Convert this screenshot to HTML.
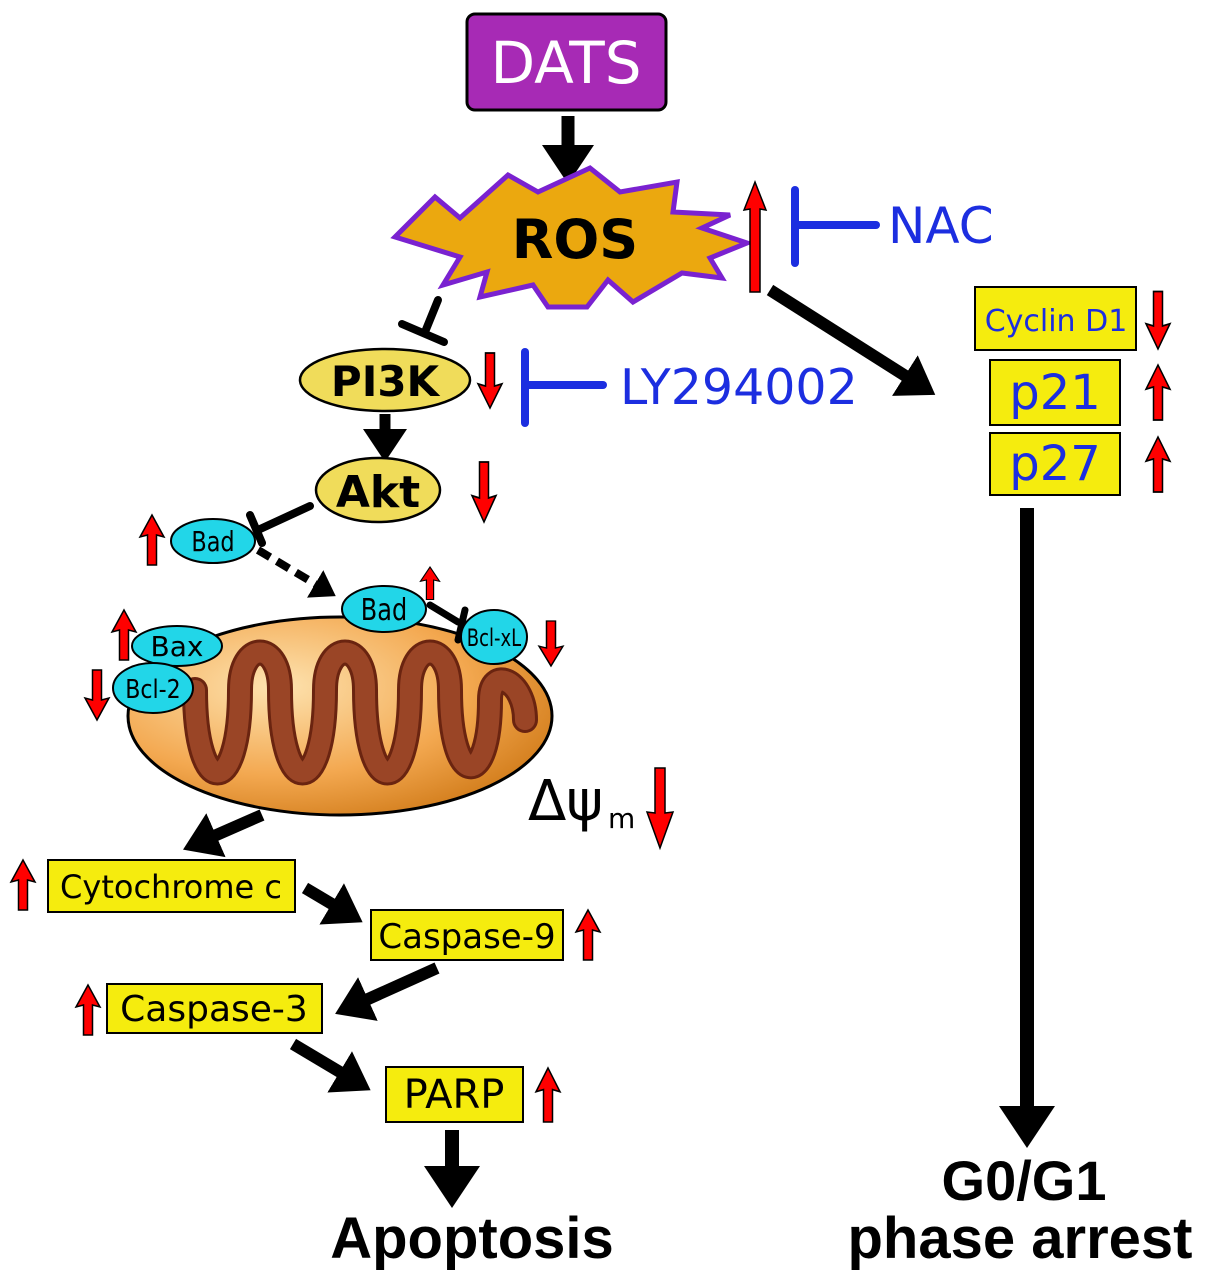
<!DOCTYPE html>
<html><head><meta charset="utf-8"><style>body{margin:0;background:#fff}svg{display:block}</style></head>
<body>
<svg width="1205" height="1285" viewBox="0 0 1205 1285" xmlns="http://www.w3.org/2000/svg" font-family="'DejaVu Sans','Liberation Sans',sans-serif">
<defs>
<marker id="ah" markerWidth="4" markerHeight="4" refX="1" refY="2" orient="auto" markerUnits="strokeWidth"><path d="M0,0 L3,2 L0,4 Z" fill="#000"/></marker>
<g id="up"><path d="M0,0 L12,22 L4.5,20 L4.5,50 L-4.5,50 L-4.5,20 L-12,22Z" fill="#f00" stroke="#000" stroke-width="1.5"/></g>
<radialGradient id="mg" cx="0.35" cy="0.35" r="0.75"><stop offset="0" stop-color="#fde3b0"/><stop offset="0.6" stop-color="#f3a850"/><stop offset="1" stop-color="#d07a18"/></radialGradient>
</defs>

<!-- DATS -->
<rect x="467" y="14" width="199" height="96" rx="8" fill="#a72ab5" stroke="#000" stroke-width="3"/>
<text x="566" y="83" font-size="58" fill="#fff" text-anchor="middle">DATS</text>
<line x1="568" y1="116" x2="568" y2="158" stroke="#000" stroke-width="13" marker-end="url(#ah)"/>

<!-- ROS -->
<path d="M395,237 L435,197 L460,218 L508,175 L538,192 L590,168 L620,192 L677,182 L673,212 L730,215 L702,228 L747,243 L710,258 L722,278 L682,273 L633,302 L608,280 L587,307 L548,307 L533,285 L480,297 L487,272 L443,285 L460,257 Z" fill="#eba80f" stroke="#7a22d0" stroke-width="5" stroke-linejoin="miter"/>
<text x="575" y="258" font-size="54" font-weight="bold" text-anchor="middle" fill="#000">ROS</text>
<path d="M755,182 L766,210 L760,209 L760,292 L750,292 L750,209 L744,210 Z" fill="#f00" stroke="#000" stroke-width="1.5"/>
<g stroke="#1c2ee0" stroke-width="8" stroke-linecap="round"><line x1="795" y1="190" x2="795" y2="263"/><line x1="795" y1="225" x2="876" y2="225"/></g>
<text x="888" y="243" font-size="50" fill="#1c2ee0">NAC</text>

<!-- ROS to PI3K inhibit -->
<g stroke="#000" stroke-width="8" stroke-linecap="round"><line x1="438" y1="300" x2="425" y2="332"/><line x1="402" y1="324" x2="444" y2="342"/></g>

<!-- PI3K -->
<ellipse cx="385" cy="380" rx="85" ry="31" fill="#f0dc5a" stroke="#000" stroke-width="2.5"/>
<text x="385" y="396" font-size="42" font-weight="bold" text-anchor="middle">PI3K</text>
<use href="#up" transform="translate(490,408) rotate(180) scale(1,1.1)"/>
<g stroke="#1c2ee0" stroke-width="8" stroke-linecap="round"><line x1="525" y1="352" x2="525" y2="423"/><line x1="525" y1="385" x2="603" y2="385"/></g>
<text x="620" y="404" font-size="49" fill="#1c2ee0">LY294002</text>

<line x1="385" y1="414" x2="385" y2="440" stroke="#000" stroke-width="11" marker-end="url(#ah)"/>

<!-- Akt -->
<ellipse cx="378" cy="490" rx="62" ry="32" fill="#f0dc5a" stroke="#000" stroke-width="2.5"/>
<text x="378" y="507" font-size="44" font-weight="bold" text-anchor="middle">Akt</text>
<use href="#up" transform="translate(484,522) rotate(180) scale(1,1.2)"/>

<g stroke="#000" stroke-width="8" stroke-linecap="round"><line x1="310" y1="506" x2="258" y2="530"/><line x1="250" y1="515" x2="262" y2="543"/></g>

<!-- Bad 1 -->
<ellipse cx="213" cy="541" rx="42" ry="22" fill="#22d6e8" stroke="#000" stroke-width="2"/>
<text x="213" y="551" font-size="28" text-anchor="middle" transform="translate(213,0) scale(0.8,1) translate(-213,0)">Bad</text>
<use href="#up" transform="translate(152,515)"/>
<line x1="258" y1="550" x2="322" y2="588" stroke="#000" stroke-width="8" stroke-dasharray="14,8" marker-end="url(#ah)"/>

<!-- Mitochondrion -->
<ellipse cx="340" cy="716" rx="212" ry="99" fill="url(#mg)" stroke="#000" stroke-width="3"/>
<path d="M195,690 C195,800 240,800 240,690 C240,640 280,640 280,690 C280,800 325,800 325,690 C325,640 365,640 365,690 C365,800 410,800 410,690 C410,640 450,640 450,690 C450,790 490,790 490,700 C490,665 525,680 525,720" fill="none" stroke="#6a2410" stroke-width="26" stroke-linecap="round"/>
<path d="M195,690 C195,800 240,800 240,690 C240,640 280,640 280,690 C280,800 325,800 325,690 C325,640 365,640 365,690 C365,800 410,800 410,690 C410,640 450,640 450,690 C450,790 490,790 490,700 C490,665 525,680 525,720" fill="none" stroke="#9a4526" stroke-width="20" stroke-linecap="round"/>

<!-- Bad 2, Bcl-xL -->
<ellipse cx="384" cy="609" rx="42" ry="23" fill="#22d6e8" stroke="#000" stroke-width="2"/>
<text x="384" y="620" font-size="30" text-anchor="middle" transform="translate(384,0) scale(0.8,1) translate(-384,0)">Bad</text>
<use href="#up" transform="translate(430,567) scale(0.8,0.65)"/>
<g stroke="#000" stroke-width="7" stroke-linecap="round"><line x1="430" y1="605" x2="458" y2="622"/><line x1="465" y1="610" x2="458" y2="640"/></g>
<ellipse cx="494" cy="637" rx="33" ry="27" fill="#22d6e8" stroke="#000" stroke-width="2"/>
<text x="494" y="646" font-size="24" text-anchor="middle" transform="translate(494,0) scale(0.75,1) translate(-494,0)">Bcl-xL</text>
<use href="#up" transform="translate(551,666) rotate(180) scale(1,0.9)"/>

<!-- Bax, Bcl-2 -->
<ellipse cx="177" cy="646" rx="45" ry="20" fill="#22d6e8" stroke="#000" stroke-width="2"/>
<text x="177" y="656" font-size="28" text-anchor="middle">Bax</text>
<use href="#up" transform="translate(124,610)"/>
<ellipse cx="153" cy="688" rx="40" ry="25" fill="#22d6e8" stroke="#000" stroke-width="2"/>
<text x="153" y="698" font-size="26" text-anchor="middle" transform="translate(153,0) scale(0.85,1) translate(-153,0)">Bcl-2</text>
<use href="#up" transform="translate(97,720) rotate(180)"/>

<!-- delta psi -->
<text x="528" y="820" font-size="56">Δψ</text>
<text x="608" y="828" font-size="28">m</text>
<path d="M660,848 L673,812 L665,813 L665,768 L655,768 L655,813 L647,812 Z" fill="#f00" stroke="#000" stroke-width="1.5"/>

<!-- apoptosis cascade -->
<line x1="262" y1="815" x2="205" y2="840" stroke="#000" stroke-width="12" marker-end="url(#ah)"/>
<rect x="48" y="860" width="247" height="52" fill="#f5ec0e" stroke="#000" stroke-width="2"/>
<text x="171" y="898" font-size="32" text-anchor="middle">Cytochrome c</text>
<use href="#up" transform="translate(23,860)"/>

<line x1="305" y1="888" x2="342" y2="910" stroke="#000" stroke-width="12" marker-end="url(#ah)"/>
<rect x="371" y="910" width="192" height="50" fill="#f5ec0e" stroke="#000" stroke-width="2"/>
<text x="467" y="948" font-size="34" text-anchor="middle">Caspase-9</text>
<use href="#up" transform="translate(588,910)"/>

<line x1="437" y1="968" x2="357" y2="1004" stroke="#000" stroke-width="12" marker-end="url(#ah)"/>
<rect x="107" y="984" width="215" height="49" fill="#f5ec0e" stroke="#000" stroke-width="2"/>
<text x="214" y="1021" font-size="36" text-anchor="middle">Caspase-3</text>
<use href="#up" transform="translate(88,985)"/>

<line x1="293" y1="1044" x2="350" y2="1078" stroke="#000" stroke-width="12" marker-end="url(#ah)"/>
<rect x="386" y="1067" width="137" height="55" fill="#f5ec0e" stroke="#000" stroke-width="2"/>
<text x="454" y="1108" font-size="40" text-anchor="middle">PARP</text>
<use href="#up" transform="translate(548,1068) scale(1,1.08)"/>

<line x1="452" y1="1130" x2="452" y2="1180" stroke="#000" stroke-width="14" marker-end="url(#ah)"/>
<text x="472" y="1258" font-size="58" font-weight="bold" text-anchor="middle" font-family="'Liberation Sans',sans-serif">Apoptosis</text>

<!-- right branch -->
<line x1="770" y1="290" x2="915" y2="382" stroke="#000" stroke-width="12" marker-end="url(#ah)"/>
<rect x="975" y="287" width="161" height="63" fill="#f5ec0e" stroke="#000" stroke-width="2"/>
<text x="1056" y="331" font-size="30" fill="#1c2ee0" text-anchor="middle">Cyclin D1</text>
<use href="#up" transform="translate(1158,349) rotate(180) scale(1,1.15)"/>
<rect x="990" y="360" width="130" height="65" fill="#f5ec0e" stroke="#000" stroke-width="2"/>
<text x="1055" y="409" font-size="48" fill="#1c2ee0" text-anchor="middle">p21</text>
<use href="#up" transform="translate(1158,365) scale(1,1.1)"/>
<rect x="990" y="433" width="130" height="62" fill="#f5ec0e" stroke="#000" stroke-width="2"/>
<text x="1055" y="480" font-size="48" fill="#1c2ee0" text-anchor="middle">p27</text>
<use href="#up" transform="translate(1158,437) scale(1,1.1)"/>

<line x1="1027" y1="508" x2="1027" y2="1120" stroke="#000" stroke-width="14" marker-end="url(#ah)"/>
<text x="1024" y="1200" font-size="56" font-weight="bold" text-anchor="middle" font-family="'Liberation Sans',sans-serif">G0/G1</text>
<text x="1020" y="1258" font-size="58" font-weight="bold" text-anchor="middle" font-family="'Liberation Sans',sans-serif">phase arrest</text>
</svg>
</body></html>
